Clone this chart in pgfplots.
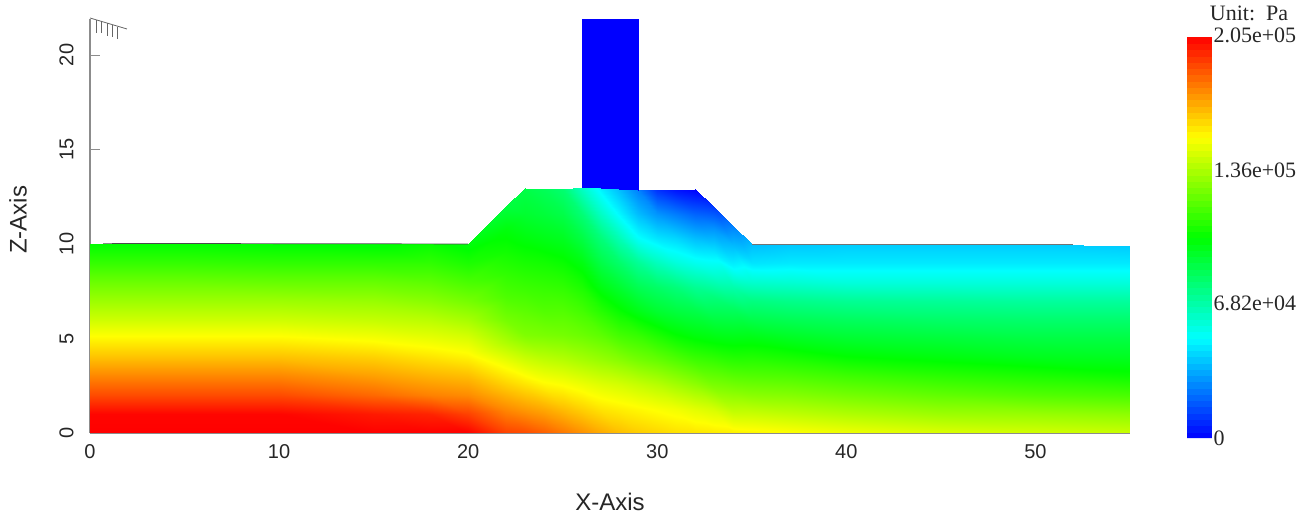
\documentclass[border=0pt]{standalone}
\usepackage{pgfplots}
\pgfplotsset{compat=1.18}
\usepackage{fontspec}
\setmainfont{Liberation Sans}
\newfontfamily\timesf{Liberation Serif}
\begin{document}
\begin{tikzpicture}[x=1pt,y=1pt]
\path[use as bounding box] (0,0) rectangle (1314,521);
\begin{axis}[
  at={(90pt,88pt)},anchor=south west,
  scale only axis,width=1040pt,height=414pt,
  xmin=0,xmax=55,ymin=0,ymax=21.9,
  axis lines*=left,
  axis line style={draw=black!45,-,line width=1.2pt},
  tick style={draw=black!45,line width=0.8pt},
  xtick={0,10,20,30,40,50},ytick={0,5,10,15,20},
  tick align=inside,major tick length=10pt,
  tick label style={font=\fontsize{20}{20}\selectfont,text=black!85,/pgf/number format/assume math mode=true},
  xticklabel style={yshift=-8pt},
  yticklabel style={rotate=90,anchor=south,yshift=13pt},
  xlabel={X-Axis},ylabel={Z-Axis},
  label style={font=\fontsize{24}{24}\selectfont,text=black!85},
  xlabel style={at={(axis description cs:0.5,-0.1667)},anchor=center},
  ylabel style={at={(axis description cs:-0.0692,0.5145)},anchor=center},
  colormap={rainbowpa}{rgb255=(0,0,255) rgb255=(0,255,255) rgb255=(0,255,0) rgb255=(255,255,0) rgb255=(255,0,0)},
  point meta min=0,point meta max=205,
  colorbar sampled,
  colorbar style={
    samples=65,
    at={(1.0548,-0.0121)},anchor=south west,
    scale only axis,width=25pt,height=401pt,
    axis line style={draw=none},
    ytick={0,68200,136000,205000},
    scaled y ticks=false,
    point meta min=0,point meta max=205000,
    ymin=0,ymax=205000,
    yticklabels={{\raisebox{0pt}{0}},{\raisebox{2pt}{6.82e+04}},{\raisebox{4pt}{1.36e+05}},{\raisebox{4pt}{2.05e+05}}},
    yticklabel pos=right,
    major tick length=0pt,
    yticklabel style={font=\timesf\fontsize{22}{22}\selectfont,text=black!85,anchor=west,xshift=-2pt},
  },
]
\addplot[surf,shader=interp,mesh/rows=11,mesh/cols=25,mesh/ordering=y varies,point meta=explicit] coordinates {
(0,0)[205] (0,1)[204] (0,2)[190] (0,3)[178] (0,4)[166] (0,5)[155] (0,6)[144] (0,7)[134] (0,8)[124] (0,9)[113] (0,10)[103]
(5,0)[205] (5,1)[204] (5,2)[190] (5,3)[178] (5,4)[166] (5,5)[155] (5,6)[144] (5,7)[134] (5,8)[124] (5,9)[113] (5,10)[103]
(10,0)[205] (10,1)[204] (10,2)[190] (10,3)[178] (10,4)[166] (10,5)[155] (10,6)[144] (10,7)[134] (10,8)[123] (10,9)[112] (10,10)[102]
(15,0)[205] (15,1)[200] (15,2)[184] (15,3)[173] (15,4)[163] (15,5)[152] (15,6)[142] (15,7)[133] (15,8)[123] (15,9)[112] (15,10)[101]
(18,0)[205] (18,1)[198] (18,2)[179] (18,3)[169] (18,4)[159] (18,5)[149] (18,6)[140] (18,7)[130] (18,8)[121] (18,9)[112] (18,10)[104]
(20,0)[205] (20,1)[192] (20,2)[177] (20,3)[167] (20,4)[156] (20,5)[146] (20,6)[136] (20,7)[126] (20,8)[117] (20,9)[108] (20,10)[100]
(22,0)[192] (22,1.2)[178] (22,2.4)[165] (22,3.6)[152] (22,4.8)[137] (22,6)[126] (22,7.2)[118] (22,8.4)[112] (22,9.6)[106] (22,10.8)[100] (22,12)[90]
(23,0)[190] (23,1.29)[174] (23,2.58)[159] (23,3.87)[144] (23,5.16)[128] (23,6.45)[121] (23,7.74)[114] (23,9.03)[107] (23,10.32)[100] (23,11.61)[93] (23,12.95)[88]
(24,0)[186] (24,1.29)[171] (24,2.58)[155] (24,3.87)[141] (24,5.16)[127] (24,6.45)[119] (24,7.74)[113] (24,9.03)[106] (24,10.32)[98] (24,11.61)[91] (24,12.93)[85]
(25,0)[181] (25,1.29)[167] (25,2.58)[153] (25,3.87)[139] (25,5.16)[126] (25,6.45)[119] (25,7.74)[112] (25,9.03)[104] (25,10.32)[96] (25,11.61)[88] (25,12.9)[80]
(26,0)[176] (26,1.29)[163] (26,2.58)[150] (26,3.87)[136] (26,5.16)[124] (26,6.45)[116] (26,7.74)[108] (26,9.03)[99] (26,10.32)[89] (26,11.61)[79] (26,13)[62]
(27,0)[171] (27,1.29)[159] (27,2.58)[147] (27,3.87)[133] (27,5.16)[121] (27,6.45)[110] (27,7.74)[99] (27,9.03)[88] (27,10.32)[78] (27,11.61)[63] (27,12.95)[48]
(28,0)[167] (28,1.29)[157] (28,2.58)[145] (28,3.87)[130] (28,5.16)[116] (28,6.45)[104] (28,7.74)[93] (28,9.03)[81] (28,10.32)[66] (28,11.61)[50] (28,12.9)[38]
(29,0)[164] (29,1.29)[155] (29,2.58)[142] (29,3.87)[126] (29,5.16)[113] (29,6.45)[98] (29,7.74)[86] (29,9.03)[72] (29,10.32)[52] (29,11.61)[38] (29,12.85)[26]
(30,0)[162] (30,1.29)[153] (30,2.58)[139] (30,3.87)[123] (30,5.16)[108] (30,6.45)[93] (30,7.74)[82] (30,9.03)[64] (30,10.32)[46] (30,11.61)[30] (30,12.87)[10]
(31,0)[160] (31,1.29)[151] (31,2.58)[135] (31,3.87)[119] (31,5.16)[103] (31,6.45)[90] (31,7.74)[78] (31,9.03)[58] (31,10.32)[43] (31,11.61)[25] (31,12.88)[4]
(32,0)[159] (32,1.29)[148] (32,2.58)[131] (32,3.87)[115] (32,5.16)[100] (32,6.45)[88] (32,7.74)[73] (32,9.03)[54] (32,10.32)[38] (32,11.61)[20] (32,12.92)[0]
(33,0)[158] (33,1.2)[146] (33,2.4)[129] (33,3.6)[116] (33,4.8)[102] (33,6)[90] (33,7.2)[78] (33,8.4)[60] (33,9.6)[46] (33,10.8)[30] (33,11.95)[12]
(34,0)[157] (34,1.1)[142] (34,2.2)[129] (34,3.3)[117] (34,4.4)[105] (34,5.5)[94] (34,6.6)[83] (34,7.7)[68] (34,8.8)[50] (34,9.9)[38] (34,10.97)[26]
(35,0)[156] (35,1)[143] (35,2)[130] (35,3)[119] (35,4)[109] (35,5)[99] (35,6)[88] (35,7)[77] (35,8)[61] (35,9)[46] (35,10)[38]
(37,0)[154] (37,1)[141] (37,2)[129] (37,3)[118] (37,4)[107] (37,5)[96] (37,6)[86] (37,7)[75] (37,8)[60] (37,9)[47] (37,10)[40]
(40,0)[151] (40,1)[138] (40,2)[126] (40,3)[115] (40,4)[103] (40,5)[93] (40,6)[84] (40,7)[73] (40,8)[58] (40,9)[47] (40,10)[41]
(45,0)[147] (45,1)[134] (45,2)[122] (45,3)[111] (45,4)[100] (45,5)[91] (45,6)[82] (45,7)[72] (45,8)[58] (45,9)[47] (45,10)[41]
(50,0)[145] (50,1)[133] (50,2)[119] (50,3)[108] (50,4)[97] (50,5)[89] (50,6)[81] (50,7)[71] (50,8)[58] (50,9)[47] (50,10)[41]
(55,0)[143] (55,1)[131] (55,2)[117] (55,3)[105] (55,4)[96] (55,5)[89] (55,6)[81] (55,7)[71] (55,8)[58] (55,9)[47] (55,9.9)[41]
};
\addplot[surf,shader=interp,mesh/rows=2,mesh/cols=2,mesh/ordering=x varies,point meta=explicit] coordinates {
(26,13)[0] (29,12.85)[0]
(26,21.9)[0] (29,21.9)[0]
};
\addplot[black!70,line width=0.7pt] coordinates {(0.7,10.03) (20,10.0)};
\addplot[black!55,line width=0.6pt] coordinates {(35,10.0) (52,10.0)};
\end{axis}
% small frame marks at the top left of the plot
\begin{scope}[draw=black!60,line width=0.8pt]
\draw (90,503) -- (127,492);
\draw (96,501) -- (96,488);
\draw (101,499) -- (101,488);
\draw (107,498) -- (107,485);
\draw (112,496) -- (112,484);
\draw (117,494) -- (117,482);
\end{scope}
\node[font=\timesf\fontsize{22}{22}\selectfont,text=black!85,anchor=center] at (1249,508) {Unit:\ \ Pa};
\end{tikzpicture}
\end{document}
